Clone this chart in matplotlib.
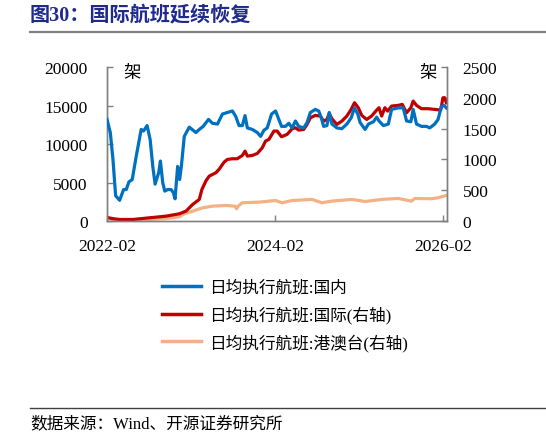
import matplotlib
matplotlib.use("Agg")
import matplotlib.pyplot as plt
from matplotlib.lines import Line2D

FAM = ['Liberation Serif', 'Noto Sans CJK SC', 'DejaVu Sans']
plt.rcParams['font.family'] = FAM

# months since 2022-02
blue_m = [0.0, 0.47, 0.85, 1.23, 1.8, 2.37, 2.75, 3.13, 3.6, 4.17, 4.88, 5.21, 5.73, 6.16, 6.54, 6.87,
          7.39, 7.63, 7.96, 8.25, 8.67, 9.15, 9.48, 9.72, 10.09, 10.38, 10.62, 11.04, 11.75, 12.7, 13.18,
          13.74, 14.5, 15.07, 15.78, 16.49, 17.2, 17.91, 18.39, 18.86, 19.34, 19.72, 20.05, 20.76, 21.47,
          21.94, 22.42, 22.89, 23.51, 24.08, 24.55, 24.93, 25.5, 25.97, 26.45, 26.92, 27.39, 28.1, 28.58,
          29.05, 29.76, 30.24, 30.62, 30.95, 31.42, 31.75, 32.13, 32.84, 33.55, 34.27, 34.88, 35.36, 35.83,
          36.16, 36.87, 37.35, 38.06, 38.53, 38.86, 39.48, 40.19, 40.66, 41.61, 42.32, 42.8, 43.41, 43.74,
          44.22, 44.93, 45.64, 46.11, 46.82, 47.3, 47.77, 48.15, 48.48]
blue_v = [13200, 11500, 8000, 3300, 2700, 4100, 4100, 5100, 5400, 8400, 11900, 11700, 12400, 10600, 7100, 4800,
          6300, 7800, 5000, 3900, 4100, 4100, 3700, 2900, 7100, 5400, 7100, 11000, 12200, 11500, 11900,
          12300, 13200, 12700, 12600, 13900, 14100, 14300, 13600, 12400, 12400, 13700, 12100, 11900, 11500,
          11000, 11800, 12100, 13900, 14300, 13200, 12300, 12300, 12700, 12100, 13000, 12300, 12100, 12800,
          14100, 14500, 14300, 13400, 12300, 12400, 14100, 12600, 12100, 12000, 12600, 13400, 14700, 13900,
          12800, 11900, 12600, 12900, 13500, 13000, 12400, 12600, 14500, 14700, 14700, 13000, 12900, 14500,
          12600, 12300, 12300, 12100, 12600, 13200, 14900, 15000, 14700]

red_m = [0.0, 0.85, 1.8, 3.7, 6.06, 8.44, 10.33, 11.28, 12.23, 13.18, 13.56, 14.12, 14.6, 15.55, 16.0, 16.73,
         17.2, 17.91, 18.6, 19.34, 19.72, 20.05, 20.76, 21.47, 22.18, 22.65, 23.13, 23.84, 24.31, 24.93, 25.73,
         26.45, 26.92, 27.39, 28.1, 28.58, 29.05, 29.76, 30.47, 30.95, 31.42, 31.75, 32.13, 32.84, 33.55, 34.27,
         34.88, 35.36, 35.9, 36.4, 37.1, 37.8, 38.53, 38.86, 39.24, 39.7, 40.1, 40.66, 41.61, 42.18, 42.8,
         43.41, 43.74, 44.22, 44.93, 45.88, 46.82, 47.68, 48.0, 48.25, 48.48]
red_v = [60, 40, 27, 27, 54, 81, 119, 162, 270, 352, 514, 650, 730, 785, 839, 958,
         1001, 1012, 1012, 1066, 1136, 1055, 1066, 1098, 1190, 1299, 1326, 1461, 1461, 1369, 1407,
         1499, 1515, 1477, 1488, 1569, 1677, 1715, 1705, 1623, 1650, 1748, 1661, 1569, 1623, 1705,
         1813, 1921, 1840, 1715, 1650, 1705, 1802, 1840, 1705, 1840, 1786, 1867, 1878, 1894, 1759,
         1840, 1948, 1878, 1824, 1824, 1813, 1802, 2002, 2002, 1921]

org_m = [0.0, 0.85, 1.8, 3.7, 6.06, 8.44, 10.33, 11.04, 12.23, 13.65, 15.07, 16.97, 18.3, 18.5, 18.8, 19.34,
         21.7, 24.08, 25.0, 26.45, 29.29, 30.7, 32.13, 34.97, 36.87, 39.24, 41.61, 43.5, 43.98, 46.35, 47.3, 48.48]
org_v = [54, 27, 11, 11, 27, 43, 70, 119, 162, 216, 243, 254, 243, 200, 250, 298,
         308, 335, 298, 335, 352, 298, 325, 352, 319, 352, 368, 325, 368, 363, 379, 417]

tick_pos = [0, 24, 48]
tick_lab = ['2022-02', '2024-02', '2026-02']
left_ticks = [0, 5000, 10000, 15000, 20000]
right_ticks = [0, 500, 1000, 1500, 2000, 2500]
labels = ['日均执行航班:国内', '日均执行航班:国际(右轴)', '日均执行航班:港澳台(右轴)']
colors = ['#0070C0', '#C00000', '#F4B183']

fig = plt.figure(figsize=(5.46, 4.39), dpi=100)
ax = fig.add_axes([0.196, 0.494, 0.623, 0.351])
ax2 = ax.twinx()

ax.plot(blue_m, blue_v, color=colors[0], lw=2.3, zorder=3)
ax2.plot(org_m, org_v, color=colors[2], lw=2.3, zorder=1)
ax2.plot(red_m, red_v, color=colors[1], lw=2.3, zorder=2)
ax.set_zorder(ax2.get_zorder() + 1)
ax.patch.set_visible(False)

ax.set_xlim(0, 48.6)
ax.set_ylim(0, 20000)
ax2.set_ylim(0, 2500)
ax.set_xticks(tick_pos)
ax.set_xticklabels(tick_lab)
ax.set_yticks(left_ticks)
ax2.set_yticks(right_ticks)

gray = '#808080'
for a in (ax, ax2):
    a.spines['top'].set_visible(False)
    for s in ('left', 'right', 'bottom'):
        a.spines[s].set_color(gray)
        a.spines[s].set_linewidth(1.0)
    a.tick_params(direction='in', colors=gray, labelcolor='black', labelsize=12.5, length=4, width=1)
ax.tick_params(axis='x', pad=12)
ax.tick_params(axis='y', pad=14)
ax2.tick_params(axis='y', pad=11)

ax.text(0.075, 1.025, '架', transform=ax.transAxes, ha='center', va='top', fontsize=12.5,
        family=['Noto Sans CJK SC'])
ax.text(0.945, 1.025, '架', transform=ax.transAxes, ha='center', va='top', fontsize=12.5,
        family=['Noto Sans CJK SC'])

handles = [Line2D([], [], color=c, lw=2.5) for c in colors]
fig.legend(handles, labels, loc='upper left', bbox_to_anchor=(0.27, 0.395), frameon=False,
           fontsize=12, handlelength=2.3, handletextpad=0.5, labelspacing=0.6)

# title and rules
fig.text(0.055, 0.965, '图30：国际航班延续恢复', fontsize=14.5, fontweight='bold', color='#1F2A8C',
         ha='left', va='center')
fig.add_artist(Line2D([0.055, 1.0], [1 - 33 / 439, 1 - 33 / 439], color=gray, lw=1.6))
fig.add_artist(Line2D([0.055, 1.0], [1 - 409 / 439, 1 - 409 / 439], color='#404040', lw=1.0))
fig.text(0.055, 1 - 424 / 439, '数据来源：Wind、开源证券研究所', fontsize=12, ha='left', va='center')

fig.savefig('out.png', dpi=100)
